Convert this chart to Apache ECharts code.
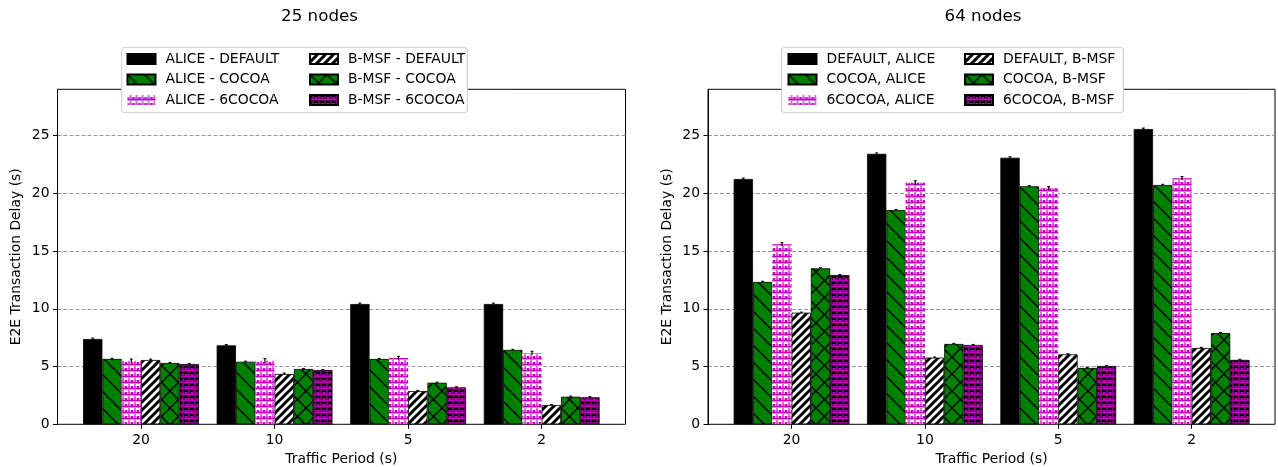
<!DOCTYPE html>
<html><head><meta charset="utf-8">
<script src="https://cdn.jsdelivr.net/npm/echarts@6/dist/echarts.min.js"></script>
<style>html,body{margin:0;padding:0;background:#fff}#c{width:1278px;height:467px}</style>
</head><body><div id="c"></div>
<script>
// ---- data ----
const categories = ['20', '10', '5', '2'];
const leftTitle = '25 nodes';
const rightTitle = '64 nodes';
const xAxisName = 'Traffic Period (s)';
const yAxisName = 'E2E Transaction Delay (s)';
const leftNames = ['ALICE - DEFAULT', 'ALICE - COCOA', 'ALICE - 6COCOA', 'B-MSF - DEFAULT', 'B-MSF - COCOA', 'B-MSF - 6COCOA'];
const rightNames = ['DEFAULT, ALICE', 'COCOA, ALICE', '6COCOA, ALICE', 'DEFAULT, B-MSF', 'COCOA, B-MSF', '6COCOA, B-MSF'];

// 25 nodes
const left_aliceDefault = [7.39, 6.84, 10.42, 10.42];
const left_aliceCocoa   = [5.66, 5.42, 5.66, 6.44];
const left_alice6Cocoa  = [5.51, 5.51, 5.74, 6.18];
const left_bmsfDefault  = [5.57, 4.36, 2.88, 1.67];
const left_bmsfCocoa    = [5.31, 4.79, 3.60, 2.39];
const left_bmsf6Cocoa   = [5.22, 4.70, 3.20, 2.34];
const left_err = [
  [0.08, 0.07, 0.08, 0.08],
  [0.06, 0.05, 0.05, 0.06],
  [0.15, 0.18, 0.15, 0.15],
  [0.08, 0.08, 0.06, 0.05],
  [0.05, 0.05, 0.05, 0.05],
  [0.05, 0.05, 0.05, 0.05]
];
// 64 nodes
const right_aliceDefault = [21.25, 23.43, 23.09, 25.58];
const right_aliceCocoa   = [12.33, 18.55, 20.62, 20.73];
const right_alice6Cocoa  = [15.59, 20.92, 20.44, 21.31];
const right_bmsfDefault  = [9.67, 5.78, 6.06, 6.61];
const right_bmsfCocoa    = [13.51, 6.96, 4.88, 7.90];
const right_bmsf6Cocoa   = [12.93, 6.87, 5.05, 5.58];
const right_err = [
  [0.08, 0.08, 0.08, 0.08],
  [0.06, 0.06, 0.06, 0.06],
  [0.15, 0.18, 0.15, 0.15],
  [0.05, 0.05, 0.05, 0.06],
  [0.06, 0.05, 0.05, 0.05],
  [0.05, 0.05, 0.05, 0.05]
];
const yTickInterval = 5;
const yMax = 29.02;

// ---- patterns ----
const GREEN = '#008000', MAG = '#c000c0';
function tile(w, h, bg, draw) {
  const c = document.createElement('canvas'); c.width = w; c.height = h;
  const x = c.getContext('2d');
  if (bg) { x.fillStyle = bg; x.fillRect(0, 0, w, h); }
  draw(x, w, h);
  return { image: c, repeat: 'repeat' };
}
function back(x, s, lw, col) {
  x.strokeStyle = col; x.lineWidth = lw; x.beginPath();
  for (let k = -2; k <= 2; k++) { x.moveTo(k * s - s, -s); x.lineTo(k * s + 2 * s, 2 * s); }
  x.stroke();
}
function fwd(x, s, lw, col) {
  x.strokeStyle = col; x.lineWidth = lw; x.beginPath();
  for (let k = -2; k <= 3; k++) { x.moveTo(k * s + s, -s); x.lineTo(k * s - 2 * s, 2 * s); }
  x.stroke();
}
function glyph(x, col) {
  x.fillStyle = col;
  x.fillRect(0, 4, 6, 1.5);
  x.fillRect(0, 2, 1.4, 2);
  x.fillRect(2.3, 1.2, 1.4, 2.8);
  x.fillRect(4.6, 2, 1.4, 2);
  x.fillRect(2.3, 0, 1.4, 0.8);
}
const patBlack = '#000';
const patGreenBack = tile(17, 17, GREEN, (x, w) => back(x, w, 1.4, '#000'));
const patMag = tile(6, 6, '#fff', (x) => glyph(x, MAG));
const patStripes = tile(8, 8, '#fff', (x, w) => fwd(x, w, 3.0, '#000'));
const patGreenX = tile(17, 17, GREEN, (x, w) => { back(x, w, 1.4, '#000'); fwd(x, w, 1.4, '#000'); });
const patPurple = tile(6, 6, '#000', (x) => glyph(x, MAG));
const styles = [
  { color: patBlack, borderColor: '#000', borderWidth: 0.8 },
  { color: patGreenBack, borderColor: '#000', borderWidth: 0.8 },
  { color: patMag, borderWidth: 0 },
  { color: patStripes, borderColor: '#000', borderWidth: 0.8 },
  { color: patGreenX, borderColor: '#000', borderWidth: 0.8 },
  { color: patPurple, borderColor: '#000', borderWidth: 0.8 }
];

const FONT = 'DejaVu Sans';
const BARW = 19.3;
const leftData = [left_aliceDefault, left_aliceCocoa, left_alice6Cocoa, left_bmsfDefault, left_bmsfCocoa, left_bmsf6Cocoa];
const rightData = [right_aliceDefault, right_aliceCocoa, right_alice6Cocoa, right_bmsfDefault, right_bmsfCocoa, right_bmsf6Cocoa];

const frames = [
  { left: 57.5, top: 89.3, width: 568, height: 335 },
  { left: 708, top: 89.3, width: 567, height: 335 }
];
const barGrids = [
  { left: 74.2, top: 89.3, width: 534.3, height: 335 },
  { left: 724.9, top: 89.3, width: 533.4, height: 335 }
];

const grid = [], xAxis = [], yAxis = [], series = [], legend = [], graphic = [];
[0, 1].forEach(p => {
  grid.push(Object.assign({ show: true, borderColor: '#000', borderWidth: 1, backgroundColor: 'transparent', containLabel: false, outerBoundsMode: 'none' }, frames[p]));
});
[0, 1].forEach(p => { grid.push(Object.assign({ containLabel: false, outerBoundsMode: 'none' }, barGrids[p])); });
[0, 1].forEach(p => {
  xAxis.push({ gridIndex: p, type: 'value', min: 0, max: 1, show: false });
  yAxis.push({
    gridIndex: p, type: 'value', min: 0, max: yMax, interval: yTickInterval,
    name: yAxisName, nameLocation: 'middle', nameGap: 34,
    nameTextStyle: { fontFamily: FONT, fontSize: 13.9, color: '#000' },
    axisLine: { show: true, lineStyle: { color: '#000', width: 1 } },
    axisTick: { show: true, length: 4.5, lineStyle: { color: '#000', width: 1 } },
    axisLabel: { fontFamily: FONT, fontSize: 13.9, color: '#000', margin: 8, showMaxLabel: false,
      formatter: v => (v % yTickInterval === 0 ? String(v) : '') },
    splitLine: { show: true, showMinLine: false, showMaxLine: false, lineStyle: { color: '#999', type: [4, 2], width: 1 } }
  });
});
[0, 1].forEach(p => {
  xAxis.push({
    gridIndex: 2 + p, type: 'category', data: categories,
    name: xAxisName, nameLocation: 'middle', nameGap: 28,
    nameTextStyle: { fontFamily: FONT, fontSize: 13.9, color: '#000' },
    axisLine: { show: false },
    axisTick: { show: true, alignWithLabel: true, length: 4.5, inside: false, lineStyle: { color: '#000', width: 1 } },
    axisLabel: { fontFamily: FONT, fontSize: 13.9, color: '#000', margin: 9 }
  });
  yAxis.push({ gridIndex: 2 + p, type: 'value', min: 0, max: yMax, show: false, splitLine: { show: false } });
});

function addPanel(p, names, data, errs) {
  names.forEach((nm, i) => {
    series.push({
      type: 'bar', name: nm, xAxisIndex: 2 + p, yAxisIndex: 2 + p,
      data: data[i], barWidth: BARW, barGap: '0%', barCategoryGap: 0,
      itemStyle: styles[i], emphasis: { disabled: true }, animation: false
    });
  });
  const eb = [];
  data.forEach((arr, i) => arr.forEach((v, c) => eb.push([c, v, errs[i][c], i])));
  series.push({
    type: 'custom', xAxisIndex: 2 + p, yAxisIndex: 2 + p, data: eb, z: 5, silent: true, animation: false,
    encode: { x: 0, y: 1 },
    renderItem: (params, api) => {
      const c = api.value(0), v = api.value(1), e = api.value(2), i = api.value(3);
      const off = (i - 2.5) * BARW;
      const hi = api.coord([c, v + e]), lo = api.coord([c, v - e]);
      const x = hi[0] + off;
      return { type: 'group', children: [
        { type: 'line', shape: { x1: x, y1: hi[1], x2: x, y2: lo[1] }, style: { stroke: '#000', lineWidth: 1.2 } },
        { type: 'line', shape: { x1: x - 1.5, y1: hi[1], x2: x + 1.5, y2: hi[1] }, style: { stroke: '#000', lineWidth: 1 } }
      ] };
    }
  });
}
addPanel(0, leftNames, leftData, left_err);
addPanel(1, rightNames, rightData, right_err);

function addLegend(names, col1x, col2x, top) {
  const base = {
    orient: 'vertical', top: top, padding: 0, itemWidth: 28, itemHeight: 10, itemGap: 6.5,
    icon: 'rect', selectedMode: false, z: 10,
    textStyle: { fontFamily: FONT, fontSize: 13.9, color: '#000', lineHeight: 14, padding: [0, 0, 0, 5] }
  };
  legend.push(Object.assign({}, base, { left: col1x, data: names.slice(0, 3) }));
  legend.push(Object.assign({}, base, { left: col2x, data: names.slice(3, 6) }));
}
addLegend(leftNames, 126.5, 309, 52);
addLegend(rightNames, 787.5, 964, 52);

graphic.push({ type: 'rect', z: 8, shape: { x: 121.7, y: 47.3, width: 345.6, height: 65.4, r: 3 }, style: { fill: '#fff', stroke: '#ccc', lineWidth: 1 } });
graphic.push({ type: 'rect', z: 8, shape: { x: 781.7, y: 47.3, width: 341.6, height: 65.4, r: 3 }, style: { fill: '#fff', stroke: '#ccc', lineWidth: 1 } });
graphic.push({ type: 'text', z: 8, x: 319.5, y: 17, style: { text: leftTitle, align: 'center', verticalAlign: 'middle', fontFamily: FONT, fontSize: 16.7, fill: '#000' } });
graphic.push({ type: 'text', z: 8, x: 983, y: 17, style: { text: rightTitle, align: 'center', verticalAlign: 'middle', fontFamily: FONT, fontSize: 16.7, fill: '#000' } });

const chart = echarts.init(document.getElementById('c'), null, { renderer: 'canvas' });
chart.setOption({ backgroundColor: '#fff', animation: false, grid, xAxis, yAxis, series, legend, graphic });
</script></body></html>
